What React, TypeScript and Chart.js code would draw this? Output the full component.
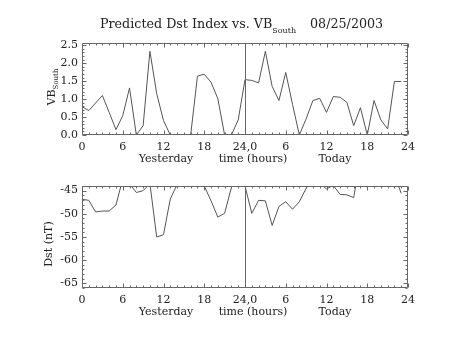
import React, { useEffect, useRef } from "react";
import { Chart, registerables } from "chart.js";

Chart.register(...registerables);

// ---- data (hourly, 0..47: yesterday 0-23, today 24-47) ----
const hours: number[] = Array.from({ length: 48 }, (_, i) => i);
const vbSouth: number[] = [
  0.79, 0.68, 0.89, 1.10, 0.63, 0.15, 0.54, 1.31, 0.0, 0.26,
  2.33, 1.15, 0.40, 0.0, 0.0, 0.0, 0.0, 1.64, 1.69, 1.47,
  1.01, 0.0, 0.0, 0.42, 1.54, 1.52, 1.45, 2.33, 1.35, 0.96,
  1.74, 0.85, 0.0, 0.45, 0.96, 1.02, 0.63, 1.07, 1.05, 0.91,
  0.26, 0.76, 0.0, 0.96, 0.42, 0.17, 1.49, 1.49,
];
const dst: number[] = [
  -46.85, -47.1, -49.6, -49.4, -49.4, -48.1, -42.5, -43.5, -45.4, -45.0,
  -43.5, -55.0, -54.5, -46.8, -43.7, -42.0, -42.0, -43.5, -44.0, -47.2,
  -50.7, -49.9, -44.3, -43.0, -44.0, -49.9, -47.1, -47.2, -52.5, -48.4,
  -47.4, -49.0, -47.4, -44.5, -42.5, -43.5, -44.6, -43.9, -45.8, -45.9,
  -46.5, -38.0, -44.3, -42.0, -42.0, -42.0, -41.6, -45.6,
];
const xTickValues: number[] = [0, 6, 12, 18, 24, 30, 36, 42, 48];
const xTickLabels: string[] = ["0", "6", "12", "18", "24,0", "6", "12", "18", "24"];
const titleMain = "Predicted Dst Index vs. VB";
const titleSub = "South";
const titleDate = "08/25/2003";

const FONT = "'DejaVu Serif', serif";
const TEXT = "#222";
const AXIS = "#666";
const LINE = "#555";

function framePlugin(yMinor: number, yMajor: number) {
  return {
    id: "frameTicks",
    afterDatasetsDraw(chart: any) {
      const { ctx, chartArea: a, scales } = chart;
      const xs = scales.x, ys = scales.y;
      const L = Math.round(a.left) + 0.5, R = Math.round(a.right) - 0.5;
      const T = Math.round(a.top) + 0.5, B = Math.round(a.bottom) - 0.5;
      ctx.save();
      ctx.strokeStyle = AXIS;
      ctx.lineWidth = 1;
      ctx.beginPath();
      ctx.rect(L, T, R - L, B - T);
      // vertical divider at 24h
      const xd = Math.round(xs.getPixelForValue(24)) + 0.5;
      ctx.moveTo(xd, T);
      ctx.lineTo(xd, B);
      // x ticks
      for (let h = xs.min; h <= xs.max; h += 1) {
        const px = Math.round(xs.getPixelForValue(h)) + 0.5;
        const len = h % 6 === 0 ? 4 : 2;
        ctx.moveTo(px, B); ctx.lineTo(px, B - len);
        ctx.moveTo(px, T); ctx.lineTo(px, T + len);
      }
      // y ticks
      const start = Math.ceil(ys.min / yMinor - 1e-6);
      for (let k = start; k * yMinor <= ys.max + 1e-9; k++) {
        const v = k * yMinor;
        const py = Math.round(ys.getPixelForValue(v)) + 0.5;
        const major = Math.abs(v / yMajor - Math.round(v / yMajor)) < 1e-6;
        const len = major ? 4 : 2;
        ctx.moveTo(L, py); ctx.lineTo(L + len, py);
        ctx.moveTo(R, py); ctx.lineTo(R - len, py);
      }
      ctx.stroke();
      ctx.restore();
    },
  };
}

function makeOptions(yMin: number, yMax: number, yStep: number, yFmt: (v: number) => string,
  pad: { top: number; right: number }, xHeight: number) {
  return {
    animation: false,
    responsive: false,
    maintainAspectRatio: false,
    events: [],
    layout: { padding: { left: 0, right: pad.right, top: pad.top, bottom: 0 } },
    plugins: { legend: { display: false }, tooltip: { enabled: false }, title: { display: false } },
    scales: {
      x: {
        type: "linear",
        min: 0,
        max: 48,
        grid: { display: false, drawTicks: false },
        border: { display: false },
        afterFit: (s: any) => { s.height = xHeight; },
        afterBuildTicks: (s: any) => { s.ticks = xTickValues.map((v) => ({ value: v })); },
        ticks: {
          padding: 6,
          maxRotation: 0,
          autoSkip: false,
          color: TEXT,
          font: { family: FONT, size: 11 },
          callback: (v: number) => xTickLabels[xTickValues.indexOf(v)] ?? "",
        },
      },
      y: {
        type: "linear",
        min: yMin,
        max: yMax,
        grid: { display: false, drawTicks: false },
        border: { display: false },
        afterFit: (s: any) => { s.width = 82; },
        ticks: {
          stepSize: yStep,
          includeBounds: false,
          padding: 4,
          color: TEXT,
          font: { family: FONT, size: 11 },
          callback: (v: number) => yFmt(v),
        },
      },
    },
  };
}

function App() {
  const topRef = useRef<HTMLCanvasElement | null>(null);
  const botRef = useRef<HTMLCanvasElement | null>(null);

  useEffect(() => {
    const top = new Chart(topRef.current as HTMLCanvasElement, {
      type: "line",
      data: {
        datasets: [{
          data: hours.map((h, i) => ({ x: h, y: vbSouth[i] })),
          borderColor: LINE, borderWidth: 1, pointRadius: 0, tension: 0, fill: false,
        }],
      },
      options: makeOptions(0, 2.56, 0.5, (v) => v.toFixed(1), { top: 43, right: 45 }, 35) as any,
      plugins: [framePlugin(0.1, 0.5)],
    });
    const bot = new Chart(botRef.current as HTMLCanvasElement, {
      type: "line",
      data: {
        datasets: [{
          data: hours.map((h, i) => ({ x: h, y: dst[i] })),
          borderColor: LINE, borderWidth: 1, pointRadius: 0, tension: 0, fill: false,
        }],
      },
      options: makeOptions(-66, -44, 5, (v) => String(v), { top: 16, right: 45 }, 52) as any,
      plugins: [framePlugin(1, 5)],
    });
    return () => { top.destroy(); bot.destroy(); };
  }, []);

  const txt: React.CSSProperties = { position: "absolute", fontFamily: FONT, color: TEXT, whiteSpace: "pre", lineHeight: 1 };

  return (
    <div style={{ position: "absolute", left: 0, top: 0, width: 453, height: 340, background: "#fff", overflow: "hidden" }}>
      <canvas ref={topRef} width={453} height={170} style={{ position: "absolute", left: 0, top: 0 }} />
      <canvas ref={botRef} width={453} height={170} style={{ position: "absolute", left: 0, top: 170 }} />
      <div style={{ ...txt, left: 100, top: 18, fontSize: 12.7 }}>
        {titleMain}
        <span style={{ fontSize: 8, position: "relative", top: 5 }}>{titleSub}</span>
        <span style={{ marginLeft: 14 }}>{titleDate}</span>
      </div>
      {/* y axis titles */}
      <div style={{ ...txt, left: 51, top: 87, fontSize: 11, transform: "translate(-50%,-50%) rotate(-90deg)" }}>
        VB<span style={{ fontSize: 7, position: "relative", top: 3 }}>South</span>
      </div>
      <div style={{ ...txt, left: 48, top: 244, fontSize: 11, transform: "translate(-50%,-50%) rotate(-90deg)" }}>
        Dst (nT)
      </div>
      {/* x axis titles */}
      <div style={{ ...txt, left: 166, top: 158, fontSize: 11, transform: "translate(-50%,-50%)" }}>Yesterday</div>
      <div style={{ ...txt, left: 253, top: 158, fontSize: 11, transform: "translate(-50%,-50%)" }}>time (hours)</div>
      <div style={{ ...txt, left: 335, top: 158, fontSize: 11, transform: "translate(-50%,-50%)" }}>Today</div>
      <div style={{ ...txt, left: 166, top: 311, fontSize: 11, transform: "translate(-50%,-50%)" }}>Yesterday</div>
      <div style={{ ...txt, left: 253, top: 311, fontSize: 11, transform: "translate(-50%,-50%)" }}>time (hours)</div>
      <div style={{ ...txt, left: 335, top: 311, fontSize: 11, transform: "translate(-50%,-50%)" }}>Today</div>
    </div>
  );
}

export default App;
